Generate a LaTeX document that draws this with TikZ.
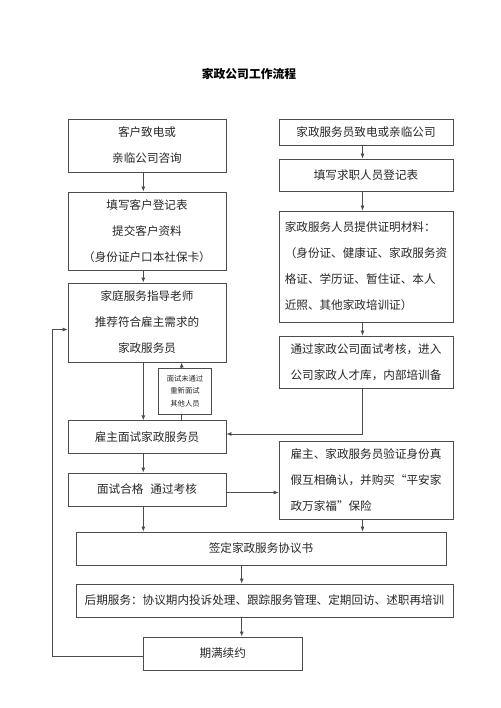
\documentclass[tikz,border=0pt]{standalone}
\usepackage{fontspec}
\setmainfont{Noto Sans CJK SC}
\usetikzlibrary{calc,positioning,arrows.meta}
\tikzset{
  box/.style={draw=black!70, line width=0.8pt, minimum width=158pt, align=center,
              inner sep=4pt, text=black!85, font=\fontsize{11.6}{26}\selectfont},
  wire/.style={draw=black!70, line width=0.8pt},
  link/.style={wire, -{Latex[length=5pt,width=4pt]}},
}

\begin{document}
\begin{tikzpicture}[x=1pt,y=-1pt]
  \useasboundingbox (0,0) rectangle (500,708);
  \node[font=\bfseries\fontsize{11.8}{14}\selectfont] (title) at (249,74) {家政公司工作流程};

  % left column: customer side
  \node[box, minimum height=53pt] (call) at (147,145.5) {客户致电或\\亲临公司咨询};
  \node[box, minimum height=78pt] (form) at (147,231) {填写客户登记表\\提交客户资料\\（身份证户口本社保卡）};
  \node[box, minimum height=79pt] (advise) at (147,322.5) {家庭服务指导老师\\推荐符合雇主需求的\\家政服务员};
  \node[box, minimum width=53.5pt, minimum height=46pt, inner sep=2pt,
        font=\fontsize{7.3}{12.5}\selectfont] (retry) at (185,391) {面试未通过\\重新面试\\其他人员};
  \node[box, minimum height=32.5pt] (meet) at (147,437) {雇主面试家政服务员};
  \node[box, minimum height=33pt] (pass) at (147,489.5) {面试合格\hspace{0.6em}通过考核};

  % right column: worker side
  \node[box, minimum width=174pt, minimum height=26pt] (apply) at (366,132) {家政服务员致电或亲临公司};
  \node[box, minimum width=174pt, minimum height=32pt] (register) at (366,175) {填写求职人员登记表};
  \node[box, minimum width=174pt, minimum height=111pt, align=left] (papers) at (366,266.5)
    {家政服务人员提供证明材料：\\（身份证、健康证、家政服务资\\格证、学历证、暂住证、本人\\近照、其他家政培训证）};
  \node[box, minimum width=174pt, minimum height=52pt, align=left] (pool) at (366,362)
    {通过家政公司面试考核，进入\\公司家政人才库，内部培训备};
  \node[box, minimum width=174pt, minimum height=78pt, align=left] (verify) at (366,480)
    {雇主、家政服务员验证身份真\\假互相确认，并购买“平安家\\政万家福”保险};

  % bottom
  \node[box, minimum width=370pt, minimum height=33pt] (sign) at (261,548.5) {签定家政服务协议书};
  \node[box, minimum width=377pt, minimum height=33pt] (after) at (264.5,600.5)
    {后期服务：协议期内投诉处理、跟踪服务管理、定期回访、述职再培训};
  \node[box, minimum width=159pt, minimum height=33pt] (renew) at (222.7,653.5) {期满续约};

  \coordinate (lx) at (143.3,0);
  \coordinate (rx) at (362.5,0);
  \coordinate (mx) at (241.7,0);
  \coordinate (sx) at (181.7,0);
  \coordinate (loop) at (52.5,0);
  \coordinate (back) at ([yshift=-7pt]advise.west);

  \draw[link] (lx |- call.south) -- (lx |- form.north);
  \draw[link] (lx |- form.south) -- (lx |- advise.north);
  \draw[link] (lx |- advise.south) -- (lx |- meet.north);
  \draw[wire] (sx |- meet.north) -- (sx |- retry.south);
  \draw[link] (sx |- retry.north) -- (sx |- advise.south);
  \draw[link] (lx |- meet.south) -- (lx |- pass.north);
  \draw[link] (lx |- pass.south) -- (lx |- sign.north);

  \draw[link] (rx |- apply.south) -- (rx |- register.north);
  \draw[link] (rx |- register.south) -- (rx |- papers.north);
  \draw[link] (rx |- papers.south) -- (rx |- pool.north);
  \draw[link] (rx |- pool.south) |- ([yshift=3pt]meet.east);
  \draw[link] ([yshift=-3pt]pass.east) -- ([yshift=-3pt]pass.east -| verify.west);
  \draw[link] (rx |- verify.south) -- (rx |- sign.north);

  \draw[link] (mx |- sign.south) -- (mx |- after.north);
  \draw[link] (mx |- after.south) -- (mx |- renew.north);
  \draw[link] ([yshift=-3pt]renew.west) -| (loop |- back) -- (back);
\end{tikzpicture}
\end{document}
